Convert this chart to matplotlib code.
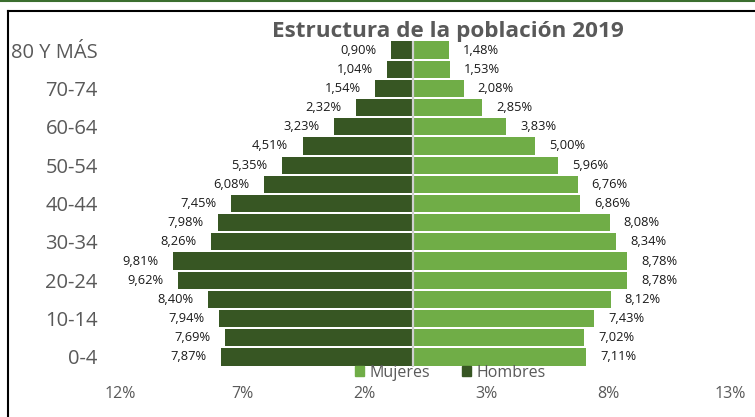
import numpy as np
import matplotlib.pyplot as plt
from matplotlib.lines import Line2D
from matplotlib.patches import Patch

plt.rcParams['font.family'] = ['Open Sans', 'DejaVu Sans']

# Age groups from youngest to oldest
grupos = ['0-4', '5-9', '10-14', '15-19', '20-24', '25-29', '30-34', '35-39',
          '40-44', '45-49', '50-54', '55-59', '60-64', '65-69', '70-74',
          '75-79', '80 Y MÁS']
hombres = [7.87, 7.69, 7.94, 8.40, 9.62, 9.81, 8.26, 7.98, 7.45, 6.08,
           5.35, 4.51, 3.23, 2.32, 1.54, 1.04, 0.90]
mujeres = [7.11, 7.02, 7.43, 8.12, 8.78, 8.78, 8.34, 8.08, 6.86, 6.76,
           5.96, 5.00, 3.83, 2.85, 2.08, 1.53, 1.48]
xticks = [-12, -7, -2, 3, 8, 13]

c_h = '#375623'
c_m = '#70ad47'
gris = '#595959'

W, H = 755, 417
fig = plt.figure(figsize=(W / 100, H / 100), dpi=100)
ax = fig.add_axes([120 / W, 1 - 366.5 / H, 610 / W, 326 / H])

y = np.arange(len(grupos))
h = np.array(hombres)
m = np.array(mujeres)
ax.barh(y, -h, height=0.9, color=c_h, zorder=2)
ax.barh(y, m, height=0.9, color=c_m, zorder=2)
ax.axvline(0, color='#d0d0d0', lw=1.6, zorder=3)

def fmt(v):
    return f'{v:.2f}%'.replace('.', ',')

for yi, v in zip(y, h):
    ax.annotate(fmt(v), (-v, yi), xytext=(-10.5, 0), textcoords='offset points',
                ha='right', va='center', fontsize=9.3, color='#1a1a1a')
for yi, v in zip(y, m):
    ax.annotate(fmt(v), (v, yi), xytext=(10, 0), textcoords='offset points',
                ha='left', va='center', fontsize=9.3, color='#1a1a1a')

ax.set_xlim(-12, 13)
ax.set_ylim(-0.5, len(grupos) - 0.5)
ax.set_xticks(xticks)
ax.set_xticklabels([f'{abs(t)}%' for t in xticks], color=gris, fontsize=11.5)
ax.set_yticks(y[::2])
ax.set_yticklabels(grupos[::2], color=gris, fontsize=14.5)
ax.tick_params(axis='x', length=0, pad=14)
ax.tick_params(axis='y', length=0, pad=16)
for s in ax.spines.values():
    s.set_visible(False)

fig.text(448 / W, 1 - 31 / H, 'Estructura de la población 2019', ha='center',
         va='center', fontsize=16.2, fontweight='bold', color=gris)

handles = [Patch(color=c_m, label='Mujeres'), Patch(color=c_h, label='Hombres')]
fig.legend(handles=handles, loc='center', bbox_to_anchor=(450 / W, 1 - 373 / H),
           ncol=2, frameon=False, fontsize=11.5, handlelength=0.6,
           handleheight=0.6, handletextpad=0.3, columnspacing=2.0,
           labelcolor=gris, borderpad=0)

# outer frame pieces
fig.add_artist(Line2D([0, 1], [1 - 1 / H, 1 - 1 / H], color='#3b6e2f', lw=1.5))
fig.add_artist(Line2D([7.5 / W, 1], [1 - 11 / H, 1 - 11 / H], color='black', lw=1.5))
fig.add_artist(Line2D([8 / W, 8 / W], [0, 1 - 11 / H], color='black', lw=1.5))

fig.savefig('out.png', dpi=100)
